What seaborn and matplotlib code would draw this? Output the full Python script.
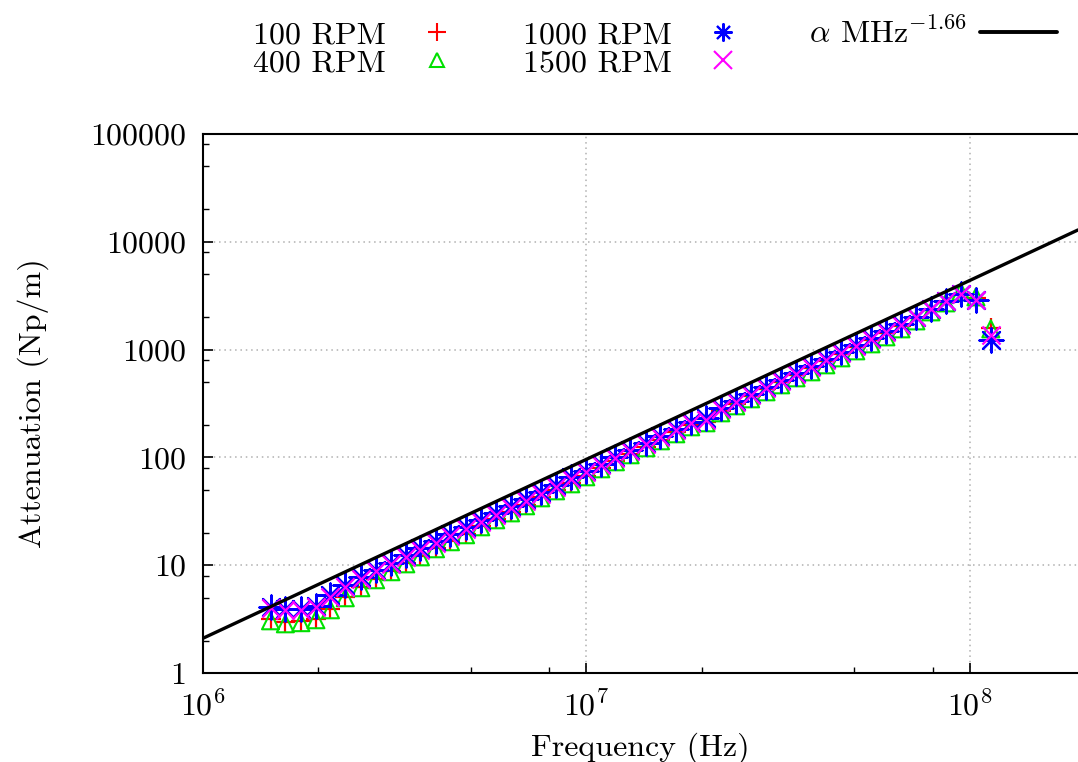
import numpy as np
import pandas as pd
import matplotlib
matplotlib.use("Agg")
import matplotlib.pyplot as plt
import seaborn as sns
from matplotlib.lines import Line2D
from matplotlib.ticker import FixedLocator, FuncFormatter, NullFormatter, LogLocator

# ---------------- data ----------------
freq_mhz = [1.50, 1.64, 1.80, 1.97, 2.15, 2.35, 2.58, 2.82, 3.09, 3.38, 3.69, 4.04,
            4.42, 4.84, 5.30, 5.80, 6.34, 6.94, 7.60, 8.31, 9.10, 9.96, 10.9, 11.9,
            13.0, 14.3, 15.6, 17.1, 18.7, 20.5, 22.4, 24.5, 26.8, 29.4, 32.1, 35.2,
            38.5, 42.1, 46.1, 50.4, 55.2, 60.4, 66.1, 72.3, 79.1, 86.6, 94.7, 103.7, 113.4]

att_100 = [3.19, 2.99, 3.05, 3.18, 3.95, 5.09, 6.31, 7.49, 8.87, 10.54, 12.24, 14.51,
           16.85, 19.57, 23.23, 26.97, 31.3, 36.4, 43.1, 50.1, 58.2, 67.5, 80.1, 93.0,
           108.0, 125.4, 145.6, 172.8, 200.7, 213.9, 270.6, 314.2, 372.8, 432.9, 502.6, 583.7,
           677.8, 787.0, 913.9, 1061.3, 1232.4, 1431.0, 1661.7, 1970.3, 2338.2, 2773.5, 3220.6, 3017.7, 1590.9]

att_400 = [3.05, 2.86, 2.93, 3.12, 3.86, 4.99, 6.18, 7.33, 8.70, 10.30, 11.96, 14.21,
           16.51, 19.17, 22.72, 26.39, 30.6, 35.6, 42.2, 49.0, 56.9, 66.1, 78.4, 91.1,
           105.8, 122.8, 142.6, 165.6, 192.3, 209.5, 259.3, 301.1, 349.7, 406.1, 471.5, 547.5,
           622.4, 722.7, 839.2, 974.5, 1131.6, 1314.0, 1558.7, 1848.1, 2240.6, 2715.1, 3431.9, 3087.1, 1558.6]

att_1000 = [4.12, 3.94, 3.95, 4.20, 5.32, 6.59, 7.81, 9.07, 10.53, 12.50, 14.51, 16.86,
            19.58, 22.73, 26.40, 30.65, 35.6, 41.3, 48.0, 55.7, 66.1, 75.1, 87.2, 101.3,
            117.7, 136.6, 158.7, 184.2, 214.0, 233.1, 288.5, 335.0, 389.0, 451.7, 524.5, 609.1,
            707.3, 821.3, 953.7, 1107.5, 1286.0, 1493.3, 1734.0, 2013.6, 2388.4, 2831.8, 3288.4, 2892.8, 1230.8]

att_1500 = [4.03, 3.86, 3.86, 4.12, 5.10, 6.31, 7.49, 8.88, 10.32, 11.98, 13.91, 16.15,
            18.76, 21.78, 25.29, 29.37, 34.1, 39.6, 46.0, 53.4, 63.3, 73.5, 85.4, 99.1,
            115.2, 133.7, 155.3, 180.3, 209.4, 223.3, 282.3, 327.8, 380.7, 442.0, 513.2, 596.0,
            692.1, 803.6, 933.2, 1083.7, 1258.4, 1461.2, 1696.8, 2013.6, 2388.4, 2831.8, 3288.4, 2892.8, 1370.5]

series_labels = ["100 RPM", "400 RPM", "1000 RPM", "1500 RPM"]
fit_coeff = 2.1        # Np/m at 1 MHz
fit_exp = 1.66
fit_label = r"$\alpha$ MHz$^{-1.66}$"

x_min, x_max = 1e6, 1.914e8
y_min, y_max = 1, 1e5
y_ticks = [1, 10, 100, 1000, 10000, 100000]

# ---------------- style ----------------
sns.set_theme(style="white")
plt.rcParams["font.family"] = ["cmr10", "DejaVu Serif"]
plt.rcParams["mathtext.fontset"] = "cm"
plt.rcParams["axes.formatter.use_mathtext"] = True
plt.rcParams["axes.unicode_minus"] = False
plt.rcParams["text.color"] = "black"
plt.rcParams["axes.labelcolor"] = "black"
plt.rcParams["xtick.color"] = "black"
plt.rcParams["ytick.color"] = "black"

FS = 23

freq_hz = [f * 1e6 for f in freq_mhz]
df = pd.DataFrame({
    "freq": freq_hz * 4,
    "att": att_100 + att_400 + att_1000 + att_1500,
    "rpm": sum([[lab] * len(freq_hz) for lab in series_labels], []),
})

fig = plt.figure(figsize=(10.78, 7.62), dpi=100)
ax = fig.add_axes([0.1883, 0.1168, 0.8117, 0.7073])

styles = {
    "100 RPM": dict(marker="+", color="#ff0000", face=None, s=200),
    "400 RPM": dict(marker="^", color="#00e000", face="none", s=150),
    "1000 RPM": dict(marker=(8, 2, 0), color="#0000ff", face=None, s=300),
    "1500 RPM": dict(marker="x", color="#ff00ff", face=None, s=170),
}
for i, lab in enumerate(series_labels):
    st = styles[lab]
    sub = df[df["rpm"] == lab]
    if st["face"] == "none":
        sns.scatterplot(data=sub, x="freq", y="att", ax=ax, marker=st["marker"],
                        s=st["s"], facecolor="none", edgecolor=st["color"],
                        linewidth=1.5, legend=False, zorder=3 + i)
    else:
        sns.scatterplot(data=sub, x="freq", y="att", ax=ax, marker=st["marker"],
                        s=st["s"], color=st["color"], linewidth=1.6, legend=False,
                        zorder=3 + i)

# fit line
fit_x = np.geomspace(x_min, x_max, 50)
fit_y = fit_coeff * (fit_x / 1e6) ** fit_exp
sns.lineplot(x=fit_x, y=fit_y, ax=ax, color="black", linewidth=2.4, zorder=10,
             legend=False, sort=False)

ax.set_xscale("log")
ax.set_yscale("log")
ax.set_xlim(x_min, x_max)
ax.set_ylim(y_min, y_max)

ax.yaxis.set_major_locator(FixedLocator(y_ticks))
ax.yaxis.set_major_formatter(FuncFormatter(lambda v, p: f"{int(round(v))}"))
ax.yaxis.set_minor_locator(LogLocator(base=10, subs=(2.0, 5.0, 8.0), numticks=20))
ax.yaxis.set_minor_formatter(NullFormatter())
ax.xaxis.set_major_locator(FixedLocator([1e6, 1e7, 1e8]))
ax.xaxis.set_minor_locator(LogLocator(base=10, subs=(2.0, 5.0, 8.0), numticks=20))
ax.xaxis.set_minor_formatter(NullFormatter())

ax.grid(True, which="major", color="#b0b0b0", linestyle=(0, (1, 2.5)), linewidth=1.1)
ax.grid(False, which="minor")
for side in ["left", "bottom", "top"]:
    ax.spines[side].set_visible(True)
    ax.spines[side].set_color("black")
    ax.spines[side].set_linewidth(1.5)
ax.spines["right"].set_visible(False)

ax.tick_params(which="major", direction="in", length=7, width=1.2, labelsize=FS,
               bottom=True, left=True, top=False, right=False, pad=12)
ax.tick_params(which="minor", direction="in", length=4, width=1.0,
               bottom=True, left=True, top=False, right=False)

ax.set_xlabel("Frequency (Hz)", fontsize=FS, labelpad=8)
ax.set_ylabel("Attenuation (Np/m)", fontsize=FS, labelpad=30)

# legend (text first, then sample, like gnuplot)
handles = []
for lab in series_labels:
    st = styles[lab]
    handles.append(Line2D([], [], linestyle="none", marker=st["marker"],
                          color=st["color"],
                          markersize=(13 if st["face"] != "none" else 10),
                          markerfacecolor=("none" if st["face"] == "none" else st["color"]),
                          markeredgewidth=1.5))
handles.append(Line2D([], [], color="black", linewidth=2.8))
labels = series_labels + [fit_label]
leg = fig.legend(handles, labels, ncol=3, markerfirst=False, frameon=False,
                 fontsize=FS, loc="upper left", bbox_to_anchor=(0.2347, 0.977),
                 handlelength=2.4, columnspacing=1.5, labelspacing=0.0,
                 handletextpad=0.4, borderpad=0.0, borderaxespad=0.0)

fig.savefig("out.png", dpi=100)
